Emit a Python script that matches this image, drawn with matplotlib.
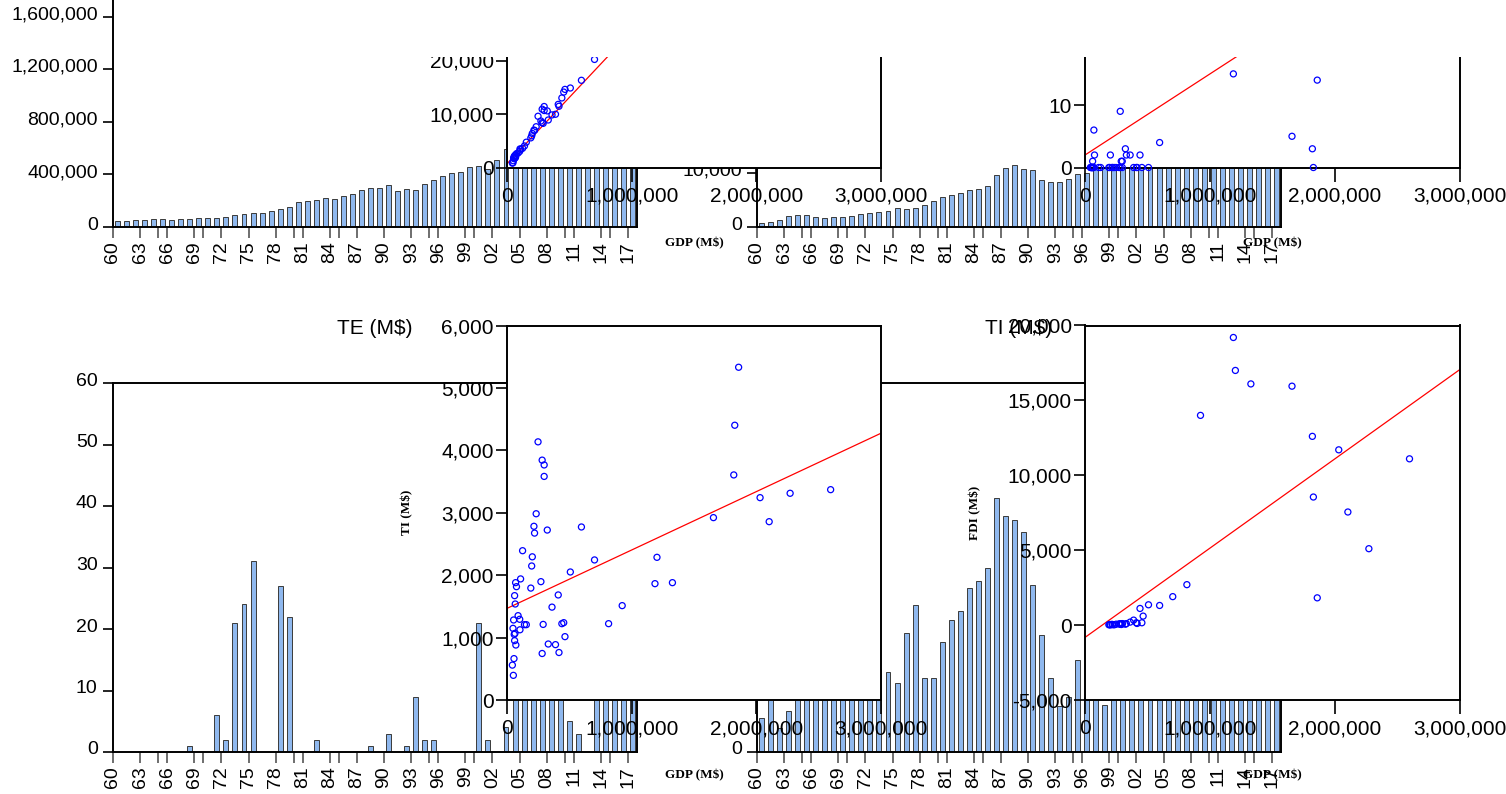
"""
Four bar panels (GDP, X, TE, TI by year) with four GDP scatter insets on top
"""
import numpy as np
import matplotlib
matplotlib.use("Agg")
import matplotlib.pyplot as plt
from matplotlib.patches import Rectangle
from matplotlib.transforms import ScaledTranslation

plt.rcParams['font.family'] = ['Liberation Sans', 'DejaVu Sans']

years = list(range(1960, 2018))

# GDP (M$), 1960-2017
gdp = [43000, 48000, 51000, 56000, 61000, 64000, 53000, 58000, 61000, 66000,
       69000, 71000, 76000, 89000, 102000, 104000, 109000, 125000, 140000, 155000,
       191000, 198000, 203000, 221000, 216000, 234000, 249000, 282000, 298000, 298000,
       323000, 272000, 290000, 282000, 331000, 361000, 389000, 411000, 417000, 455000,
       465000, 440000, 508000, 597000, 702000, 815000, 924000, 1187000, 1203000, 1327000,
       1656000, 1819000, 1827000, 1858000, 2030000, 2103000, 2271000, 2596000]

# top-right series (title hidden)
xvar = [820, 880, 1260, 1950, 2140, 2270, 1760, 1640, 1760, 1830,
        1950, 2330, 2580, 2710, 3020, 3470, 3400, 3590, 4030, 4730,
        5540, 5920, 6360, 6930, 6990, 7620, 9580, 10900, 11400, 10650,
        10580, 8690, 8250, 8380, 8880, 9830, 9950, 11800, 11450, 14100,
        14600, 13000, 14860, 16300, 20200, 24000, 28500, 33000, 36500, 34000,
        43000, 47000, 49000, 51000, 55000, 52000, 56000, 62000]

# TE (M$)
te = [0, 0, 0, 0, 0, 0, 0, 0, 1, 0,
      0, 6, 2, 21, 24, 31, 0, 0, 27, 22,
      0, 0, 2, 0, 0, 0, 0, 0, 1, 0,
      3, 0, 1, 9, 2, 2, 0, 0, 0, 0,
      21, 2, 0, 4, 22, 35, 28, 15, 40, 25,
      5, 3, 0, 14, 30, 26, 20, 24]

# TI (M$)
ti = [559, 1148, 395, 663, 951, 1068, 1282, 1051, 1672, 1538,
      1880, 881, 1816, 1351, 1293, 1125, 1940, 2392, 1207, 1207,
      1793, 2147, 2294, 2674, 2783, 2984, 4136, 3843, 3766, 3582,
      2723, 1896, 1211, 745, 897, 1488, 887, 1683, 761, 1239,
      1015, 1223, 2051, 2772, 2244, 1223, 1512, 1864, 2286, 1880,
      2922, 3606, 4402, 5331, 3242, 2857, 3312, 3370]

# FDI (M$), no data before 1980
fdi = [np.nan] * 20 + [
       20, 40, 10, 30, 50, 20, 60, 80, 90, 100,
       60, 80, 40, 70, 100, 200, 333, 156, 110, 156,
       600, 1111, 1356, 1311, 1900, 2700, 14000, 19200, 17000, 16100,
       15950, 12600, 8550, 1820, 11700, 7550, 5100, 11100]

# fitted lines (value at GDP = 0 and 3,000,000)
fit_gdp = [0, 3000000]
xvar_fit = [700, 75100]
te_fit = [2.0, 41.0]
ti_fit = [1468, 4274]
fdi_fit = [-822, 17067]

W, H = 1506, 794
BAR_FILL = '#8fb8ee'
BAR_EDGE = '#3a3a3a'


def px_axes(fig, left, top, right, bottom):
    return fig.add_axes([left / W, 1 - bottom / H, (right - left) / W, (bottom - top) / H])


def fmt(v):
    return f"{v:,.0f}"


def bar_panel(fig, ax, values, ylim, yticks):
    x = np.arange(len(years))
    ax.bar(x, values, width=0.55, color=BAR_FILL, edgecolor=BAR_EDGE, linewidth=0.7)
    ax.set_xlim(-0.5, len(years) - 0.5)
    ax.set_ylim(ylim)
    major = [i - 0.5 for i, y in enumerate(years) if (y - 1960) % 3 == 0]
    labels = [f"{y % 100:02d}" for y in years if (y - 1960) % 3 == 0]
    minor = [i - 0.5 for i, y in enumerate(years) if y % 5 == 0 and (y - 1960) % 3 != 0]
    ax.set_xticks(major)
    ax.set_xticklabels(labels, rotation=90, fontsize=14)
    ax.set_xticks(minor, minor=True)
    ax.tick_params(axis='x', which='both', length=8, width=1.2, color='#555555', pad=2)
    ax.set_yticks(yticks)
    ax.set_yticklabels([fmt(v) for v in yticks], fontsize=14)
    ax.tick_params(axis='y', length=7, width=1.2, pad=4)
    # labels sit a little above their ticks in the original
    shift = ScaledTranslation(0, 4 / 100, fig.dpi_scale_trans)
    for lab in ax.get_yticklabels():
        lab.set_transform(lab.get_transform() + shift)
    for s in ax.spines.values():
        s.set_linewidth(1.4)


def scatter_inset(ax, yvals, fit, ylim, yticks, xlab_y):
    ax.set_facecolor('white')
    ax.scatter(gdp, yvals, s=19, facecolors='none', edgecolors='#0000ff',
               linewidths=0.9, zorder=3, clip_on=False)
    ax.plot(fit_gdp, fit, color='red', lw=0.9, zorder=2)
    ax.set_xlim(0, 3000000)
    ax.set_ylim(ylim)
    xt = [0, 1000000, 2000000, 3000000]
    ax.set_xticks(xt)
    ax.set_xticklabels([fmt(v) for v in xt], fontsize=15)
    ax.set_yticks(yticks)
    ax.set_yticklabels([fmt(v) for v in yticks], fontsize=15)
    ax.tick_params(axis='x', length=10, width=1.2, pad=4)
    ax.tick_params(axis='y', length=8, width=1.2, pad=1.5)
    for s in ax.spines.values():
        s.set_linewidth(1.4)
    ax.text(0.5, xlab_y, 'GDP (M$)', transform=ax.transAxes, ha='center', va='center',
            fontsize=9.5, fontweight='bold', family='Liberation Serif')


fig = plt.figure(figsize=(W / 100, H / 100), dpi=100)

# bar panels
ax_a = px_axes(fig, 113, -140.5, 637, 227)
bar_panel(fig, ax_a, gdp, (0, 2800000), list(range(0, 2800001, 400000)))

ax_b = px_axes(fig, 757, -151, 1281, 227)
bar_panel(fig, ax_b, xvar, (0, 70000), list(range(0, 70001, 10000)))

ax_c = px_axes(fig, 113, 383, 637, 752)
bar_panel(fig, ax_c, te, (0, 60), list(range(0, 61, 10)))
ax_c.text(0.5, 1.149, 'TE (M$)', transform=ax_c.transAxes, ha='center', va='center', fontsize=15)

ax_d = px_axes(fig, 757, 383, 1281, 752)
bar_panel(fig, ax_d, ti, (0, 6000), list(range(0, 6001, 1000)))
ax_d.text(0.5, 1.149, 'TI (M$)', transform=ax_d.transAxes, ha='center', va='center', fontsize=15)

# scatter insets
in1 = px_axes(fig, 507, -207, 881, 167.5)
scatter_inset(in1, xvar, xvar_fit, (0, 70000), list(range(0, 70001, 10000)), -0.202)

in2 = px_axes(fig, 1085, -207, 1460, 167.5)
scatter_inset(in2, te, te_fit, (0, 60), list(range(0, 61, 10)), -0.202)

in3 = px_axes(fig, 507, 325.5, 881, 700)
scatter_inset(in3, ti, ti_fit, (0, 6000), list(range(0, 6001, 1000)), -0.2)
in3.text(-100 / 374, 0.5, 'TI (M$)', transform=in3.transAxes, rotation=90, ha='center',
         va='center', fontsize=9.5, fontweight='bold', family='Liberation Serif')

in4 = px_axes(fig, 1085, 325.5, 1460, 700)
scatter_inset(in4, fdi, fdi_fit, (-5000, 20000), list(range(-5000, 20001, 5000)), -0.2)
in4.text(-110 / 375, 0.5, 'FDI (M$)', transform=in4.transAxes, rotation=90, ha='center',
         va='center', fontsize=9.5, fontweight='bold', family='Liberation Serif')

# white strip hiding the top of the upper row
fig.add_artist(Rectangle((118 / W, 1 - 57 / H), (W - 118) / W, 57 / H,
                         transform=fig.transFigure, facecolor='white',
                         edgecolor='none', zorder=10))

fig.savefig('out.png', dpi=100)
